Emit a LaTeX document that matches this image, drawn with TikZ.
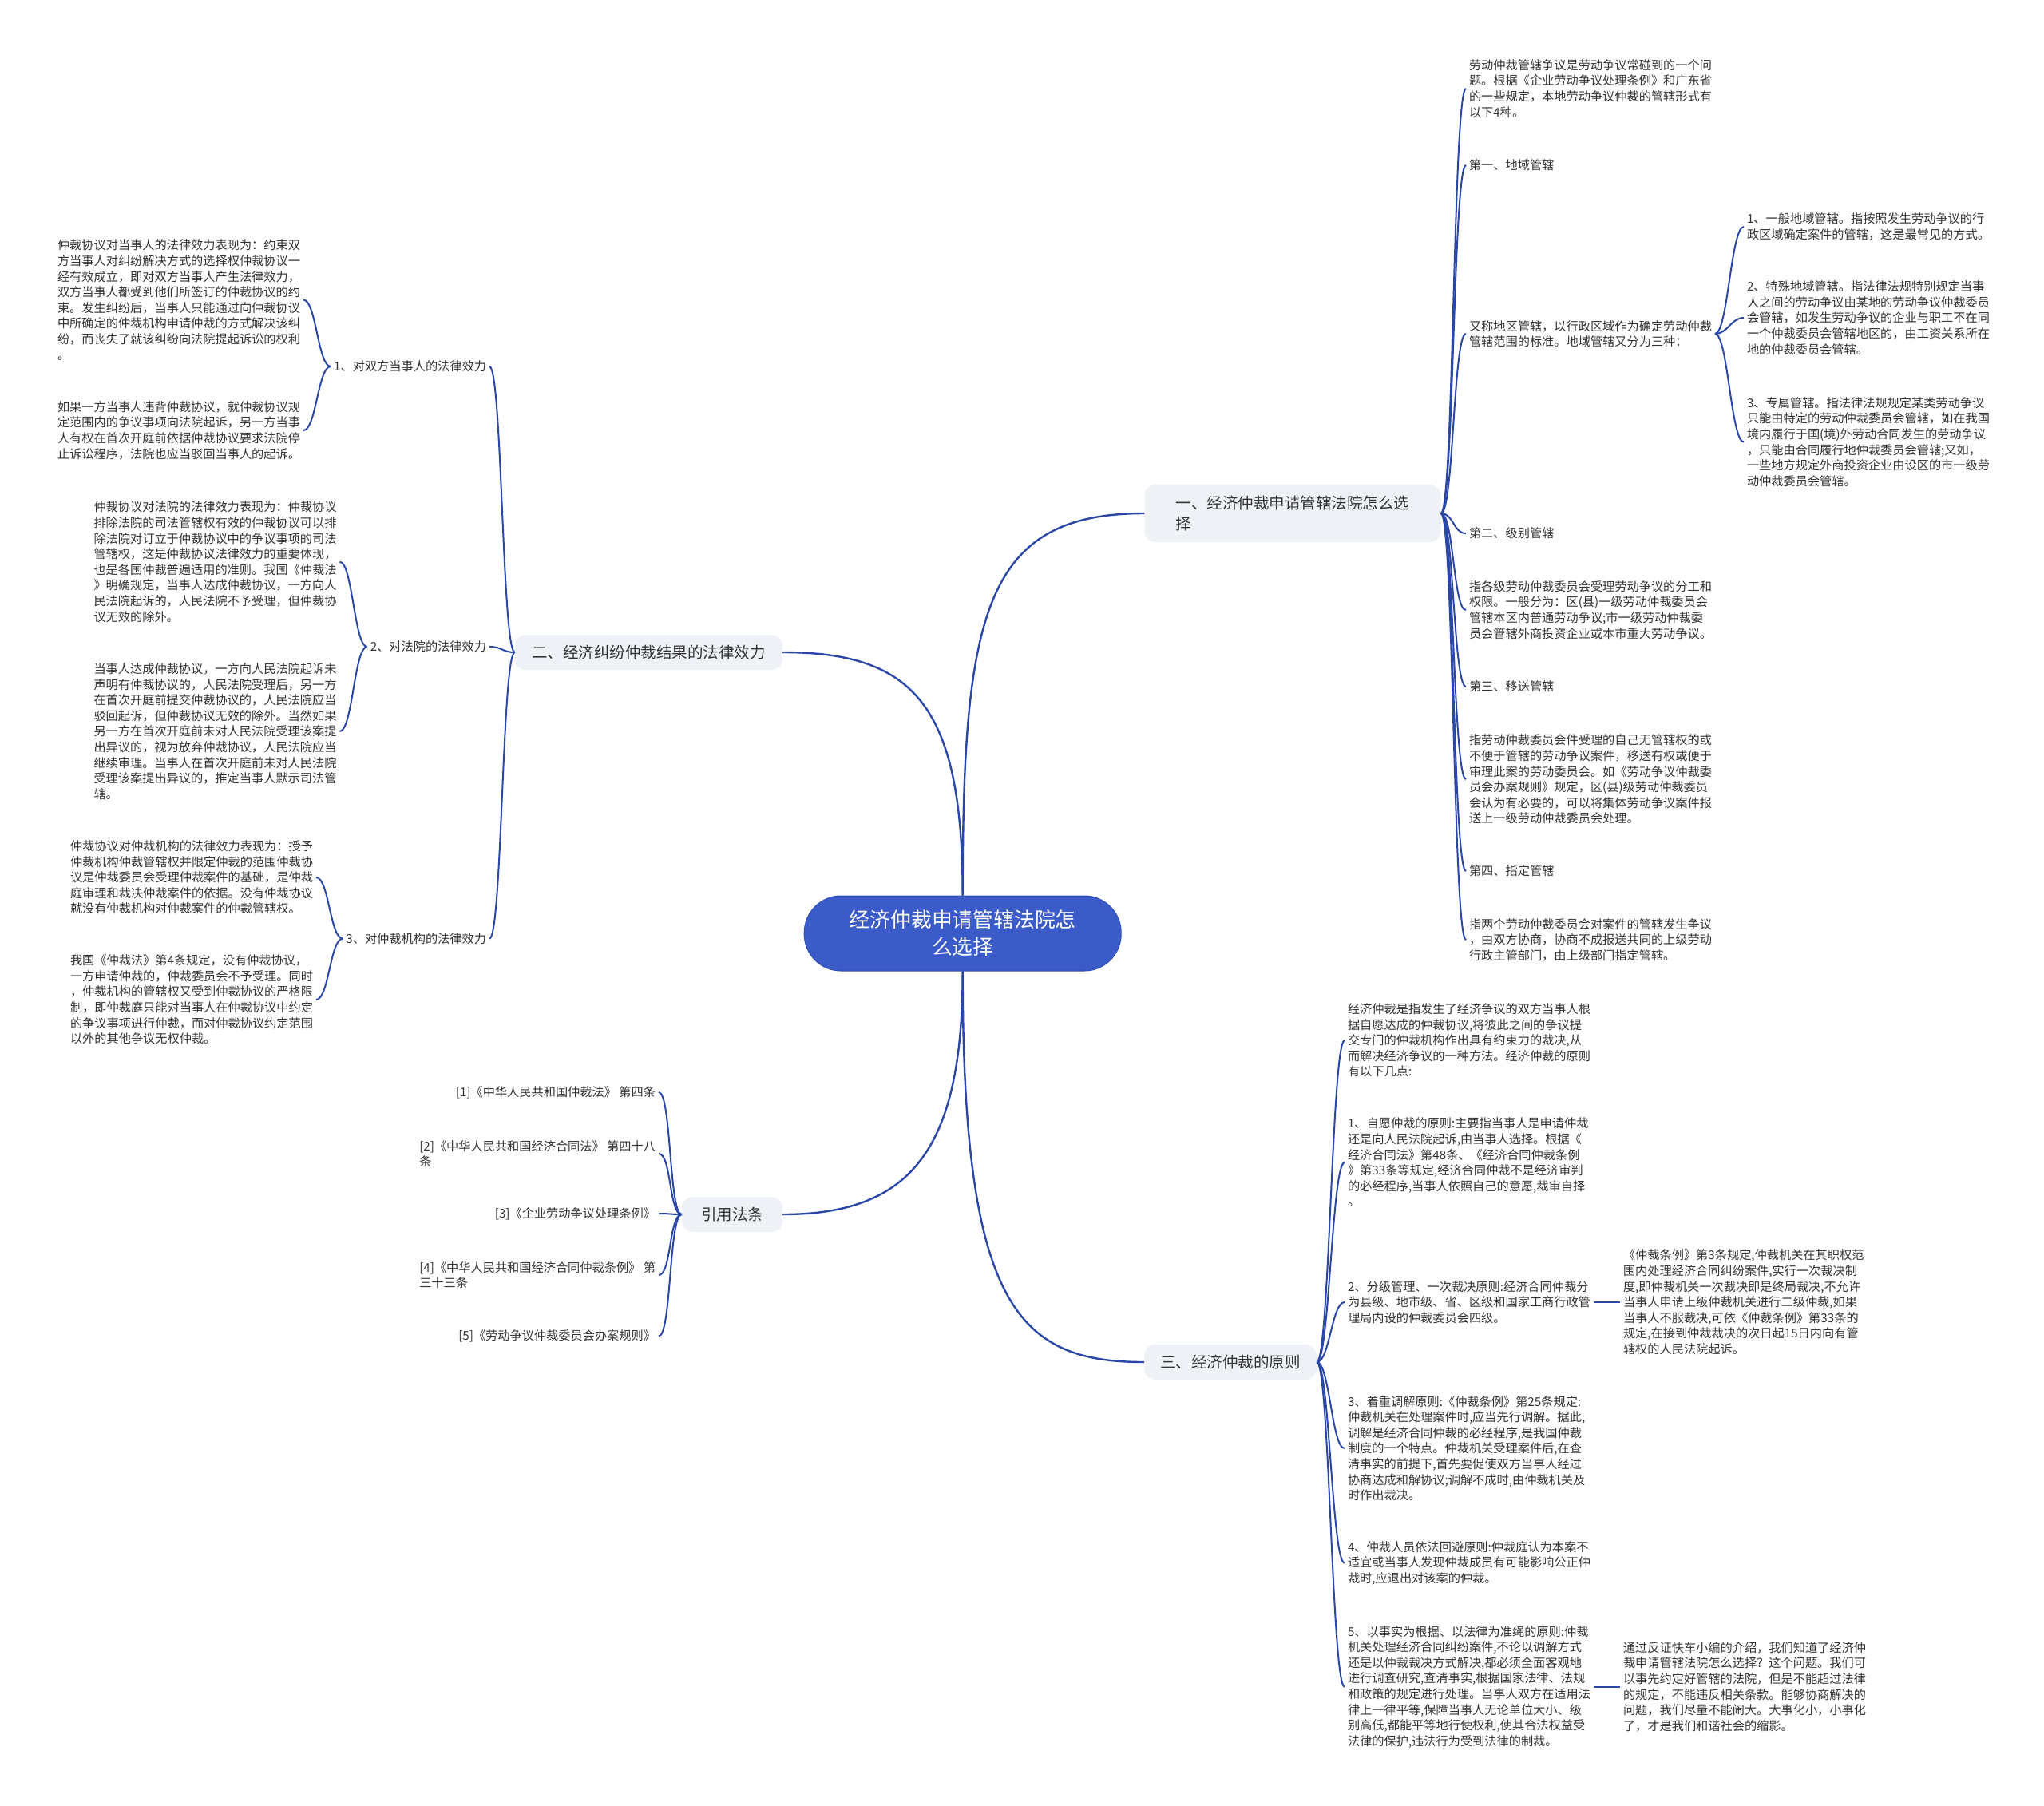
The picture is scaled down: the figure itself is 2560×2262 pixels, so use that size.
\documentclass[tikz,border=0pt]{standalone}
\usepackage{fontspec}
\setmainfont{Noto Sans CJK SC}
\definecolor{linkblue}{HTML}{2A47A8}
\definecolor{rootblue}{HTML}{3B5BC8}
\definecolor{rootedge}{HTML}{304FB8}
\definecolor{boxgray}{HTML}{EEF1F6}
\definecolor{txt}{HTML}{333333}
\newcommand\leaffont{\fontsize{15.2pt}{19.6pt}\selectfont}
\newcommand\branchfont{\fontsize{19.5pt}{26pt}\selectfont}
\newcommand\rootfont{\fontsize{25.8pt}{34pt}\selectfont}
\begin{document}
\begin{tikzpicture}[x=1pt,y=-1pt,
  conn/.style={draw=linkblue,line width=2.4pt},
  sub/.style={draw=linkblue,line width=2pt},
  rb/.style={to path={.. controls +(16,0) and +(-16,0) .. (\tikztotarget)}},
  lb/.style={to path={.. controls +(-16,0) and +(16,0) .. (\tikztotarget)}},
  leaf/.style={inner sep=0pt,outer xsep=4pt,outer ysep=0pt,align=left,text=txt,font=\leaffont},
  branch/.style={fill=boxgray,rounded corners=14pt,text=txt,font=\branchfont,inner xsep=20pt,inner ysep=0pt,minimum height=44pt,align=left},
]
\fill[white] (0,0) rectangle (2560,2262);
\useasboundingbox (0,0) rectangle (2560,2262);

% root
\node[fill=rootblue,draw=rootedge,line width=1pt,rounded corners=46pt,minimum width=397pt,minimum height=94pt,text=white,font=\rootfont,align=center,inner sep=0pt] (root) at (1205.7,1169) {经济仲裁申请管辖法院怎\\么选择};

% main branches
\node[branch,minimum width=371pt,minimum height=72pt,inner xsep=36pt] (b1) at (1619,643) {一、经济仲裁申请管辖法院怎么选\\择};
\node[branch,minimum width=335pt] (b2) at (812.5,817) {二、经济纠纷仲裁结果的法律效力};
\node[branch,minimum width=126pt] (bcit) at (917,1521) {引用法条};
\node[branch,minimum width=216pt] (b3) at (1541,1706) {三、经济仲裁的原则};

\draw[conn] (root.north) .. controls +(0,-355) and +(-200,0) .. (b1.west);
\draw[conn] (root.north) .. controls +(0,-240) and +(163,0) .. (b2.east);
\draw[conn] (root.south) .. controls +(0,221) and +(163,0) .. (bcit.east);
\draw[conn] (root.south) .. controls +(0,417) and +(-160,0) .. (b3.west);

% ---------- branch 1 ----------
\node[leaf,anchor=west] (r1) at (1836,111) {劳动仲裁管辖争议是劳动争议常碰到的一个问\\题。根据《企业劳动争议处理条例》和广东省\\的一些规定，本地劳动争议仲裁的管辖形式有\\以下4种。};
\node[leaf,anchor=west] (r2) at (1836,207) {第一、地域管辖};
\node[leaf,anchor=west] (r3) at (1836,418) {又称地区管辖，以行政区域作为确定劳动仲裁\\管辖范围的标准。地域管辖又分为三种：};
\node[leaf,anchor=west] (r4) at (1836,668) {第二、级别管辖};
\node[leaf,anchor=west] (r5) at (1836,764) {指各级劳动仲裁委员会受理劳动争议的分工和\\权限。一般分为：区(县)一级劳动仲裁委员会\\管辖本区内普通劳动争议;市一级劳动仲裁委\\员会管辖外商投资企业或本市重大劳动争议。};
\node[leaf,anchor=west] (r6) at (1836,860) {第三、移送管辖};
\node[leaf,anchor=west] (r7) at (1836,976) {指劳动仲裁委员会件受理的自己无管辖权的或\\不便于管辖的劳动争议案件，移送有权或便于\\审理此案的劳动委员会。如《劳动争议仲裁委\\员会办案规则》规定，区(县)级劳动仲裁委员\\会认为有必要的，可以将集体劳动争议案件报\\送上一级劳动仲裁委员会处理。};
\node[leaf,anchor=west] (r8) at (1836,1091) {第四、指定管辖};
\node[leaf,anchor=west] (r9) at (1836,1177) {指两个劳动仲裁委员会对案件的管辖发生争议\\，由双方协商，协商不成报送共同的上级劳动\\行政主管部门，由上级部门指定管辖。};

\node[leaf,anchor=west] (c1) at (2184,284) {1、一般地域管辖。指按照发生劳动争议的行\\政区域确定案件的管辖，这是最常见的方式。};
\node[leaf,anchor=west] (c2) at (2184,398) {2、特殊地域管辖。指法律法规特别规定当事\\人之间的劳动争议由某地的劳动争议仲裁委员\\会管辖，如发生劳动争议的企业与职工不在同\\一个仲裁委员会管辖地区的，由工资关系所在\\地的仲裁委员会管辖。};
\node[leaf,anchor=west] (c3) at (2184,553.5) {3、专属管辖。指法律法规规定某类劳动争议\\只能由特定的劳动仲裁委员会管辖，如在我国\\境内履行于国(境)外劳动合同发生的劳动争议\\，只能由合同履行地仲裁委员会管辖;又如，\\一些地方规定外商投资企业由设区的市一级劳\\动仲裁委员会管辖。};

\foreach \n in {r1,r2,r3,r4,r5,r6,r7,r8,r9}{\draw[sub] (b1.east) to[rb] (\n.west);}
\foreach \n in {c1,c2,c3}{\draw[sub] (r3.east) to[rb] (\n.west);}

% ---------- branch 2 ----------
\node[leaf,anchor=east] (s1) at (613,459) {1、对双方当事人的法律效力};
\node[leaf,anchor=east] (s2) at (613,810) {2、对法院的法律效力};
\node[leaf,anchor=east] (s3) at (613,1175.6) {3、对仲裁机构的法律效力};

\node[leaf,anchor=west] (l1) at (68,375.5) {仲裁协议对当事人的法律效力表现为：约束双\\方当事人对纠纷解决方式的选择权仲裁协议一\\经有效成立，即对双方当事人产生法律效力，\\双方当事人都受到他们所签订的仲裁协议的约\\束。发生纠纷后，当事人只能通过向仲裁协议\\中所确定的仲裁机构申请仲裁的方式解决该纠\\纷，而丧失了就该纠纷向法院提起诉讼的权利\\。};
\node[leaf,anchor=west] (l2) at (68,539) {如果一方当事人违背仲裁协议，就仲裁协议规\\定范围内的争议事项向法院起诉，另一方当事\\人有权在首次开庭前依据仲裁协议要求法院停\\止诉讼程序，法院也应当驳回当事人的起诉。};
\node[leaf,anchor=west] (l3) at (113.5,703.7) {仲裁协议对法院的法律效力表现为：仲裁协议\\排除法院的司法管辖权有效的仲裁协议可以排\\除法院对订立于仲裁协议中的争议事项的司法\\管辖权，这是仲裁协议法律效力的重要体现，\\也是各国仲裁普遍适用的准则。我国《仲裁法\\》明确规定，当事人达成仲裁协议，一方向人\\民法院起诉的，人民法院不予受理，但仲裁协\\议无效的除外。};
\node[leaf,anchor=west] (l4) at (113.5,916) {当事人达成仲裁协议，一方向人民法院起诉未\\声明有仲裁协议的，人民法院受理后，另一方\\在首次开庭前提交仲裁协议的，人民法院应当\\驳回起诉，但仲裁协议无效的除外。当然如果\\另一方在首次开庭前未对人民法院受理该案提\\出异议的，视为放弃仲裁协议，人民法院应当\\继续审理。当事人在首次开庭前未对人民法院\\受理该案提出异议的，推定当事人默示司法管\\辖。};
\node[leaf,anchor=west] (l5) at (84,1099) {仲裁协议对仲裁机构的法律效力表现为：授予\\仲裁机构仲裁管辖权并限定仲裁的范围仲裁协\\议是仲裁委员会受理仲裁案件的基础，是仲裁\\庭审理和裁决仲裁案件的依据。没有仲裁协议\\就没有仲裁机构对仲裁案件的仲裁管辖权。};
\node[leaf,anchor=west] (l6) at (84,1252) {我国《仲裁法》第4条规定，没有仲裁协议，\\一方申请仲裁的，仲裁委员会不予受理。同时\\，仲裁机构的管辖权又受到仲裁协议的严格限\\制，即仲裁庭只能对当事人在仲裁协议中约定\\的争议事项进行仲裁，而对仲裁协议约定范围\\以外的其他争议无权仲裁。};

\foreach \n in {s1,s2,s3}{\draw[sub] (b2.west) to[lb] (\n.east);}
\draw[sub] (s1.west) to[lb] (l1.east);
\draw[sub] (s1.west) to[lb] (l2.east);
\draw[sub] (s2.west) to[lb] (l3.east);
\draw[sub] (s2.west) to[lb] (l4.east);
\draw[sub] (s3.west) to[lb] (l5.east);
\draw[sub] (s3.west) to[lb] (l6.east);

% ---------- citations ----------
\node[leaf,anchor=east] (k1) at (825,1368) {[1]《中华人民共和国仲裁法》 第四条};
\node[leaf,anchor=east] (k2) at (825,1445) {[2]《中华人民共和国经济合同法》 第四十八\\条};
\node[leaf,anchor=east] (k3) at (825,1520) {[3]《企业劳动争议处理条例》};
\node[leaf,anchor=east] (k4) at (825,1597) {[4]《中华人民共和国经济合同仲裁条例》 第\\三十三条};
\node[leaf,anchor=east] (k5) at (825,1673.5) {[5]《劳动争议仲裁委员会办案规则》};
\foreach \n in {k1,k2,k3,k4,k5}{\draw[sub] (bcit.west) to[lb] (\n.east);}

% ---------- branch 3 ----------
\node[leaf,anchor=west] (p0) at (1684,1303) {经济仲裁是指发生了经济争议的双方当事人根\\据自愿达成的仲裁协议,将彼此之间的争议提\\交专门的仲裁机构作出具有约束力的裁决,从\\而解决经济争议的一种方法。经济仲裁的原则\\有以下几点:};
\node[leaf,anchor=west] (p1) at (1684,1456) {1、自愿仲裁的原则:主要指当事人是申请仲裁\\还是向人民法院起诉,由当事人选择。根据《\\经济合同法》第48条、《经济合同仲裁条例\\》第33条等规定,经济合同仲裁不是经济审判\\的必经程序,当事人依照自己的意愿,裁审自择\\。};
\node[leaf,anchor=west] (p2) at (1684,1631) {2、分级管理、一次裁决原则:经济合同仲裁分\\为县级、地市级、省、区级和国家工商行政管\\理局内设的仲裁委员会四级。};
\node[leaf,anchor=west] (p3) at (1684,1814) {3、着重调解原则:《仲裁条例》第25条规定:\\仲裁机关在处理案件时,应当先行调解。据此,\\调解是经济合同仲裁的必经程序,是我国仲裁\\制度的一个特点。仲裁机关受理案件后,在查\\清事实的前提下,首先要促使双方当事人经过\\协商达成和解协议;调解不成时,由仲裁机关及\\时作出裁决。};
\node[leaf,anchor=west] (p4) at (1684,1957.6) {4、仲裁人员依法回避原则:仲裁庭认为本案不\\适宜或当事人发现仲裁成员有可能影响公正仲\\裁时,应退出对该案的仲裁。};
\node[leaf,anchor=west] (p5) at (1684,2112.7) {5、以事实为根据、以法律为准绳的原则:仲裁\\机关处理经济合同纠纷案件,不论以调解方式\\还是以仲裁裁决方式解决,都必须全面客观地\\进行调查研究,查清事实,根据国家法律、法规\\和政策的规定进行处理。当事人双方在适用法\\律上一律平等,保障当事人无论单位大小、级\\别高低,都能平等地行使权利,使其合法权益受\\法律的保护,违法行为受到法律的制裁。};
\node[leaf,anchor=west] (p2c) at (2029,1631) {《仲裁条例》第3条规定,仲裁机关在其职权范\\围内处理经济合同纠纷案件,实行一次裁决制\\度,即仲裁机关一次裁决即是终局裁决,不允许\\当事人申请上级仲裁机关进行二级仲裁,如果\\当事人不服裁决,可依《仲裁条例》第33条的\\规定,在接到仲裁裁决的次日起15日内向有管\\辖权的人民法院起诉。};
\node[leaf,anchor=west] (p5c) at (2029,2112.7) {通过反证快车小编的介绍，我们知道了经济仲\\裁申请管辖法院怎么选择？这个问题。我们可\\以事先约定好管辖的法院，但是不能超过法律\\的规定，不能违反相关条款。能够协商解决的\\问题，我们尽量不能闹大。大事化小，小事化\\了，才是我们和谐社会的缩影。};

\foreach \n in {p0,p1,p2,p3,p4,p5}{\draw[sub] (b3.east) to[rb] (\n.west);}
\draw[sub] (p2.east) -- (p2c.west);
\draw[sub] (p5.east) -- (p5c.west);
\end{tikzpicture}
\end{document}
